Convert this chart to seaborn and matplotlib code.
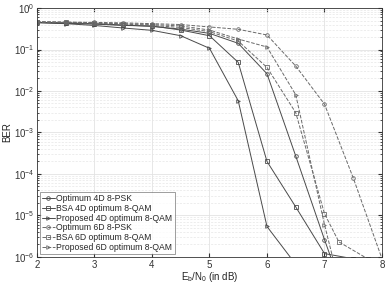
import matplotlib
matplotlib.use('Agg')
import matplotlib.pyplot as plt
import numpy as np
import seaborn as sns

# BER curves
x_half = [2, 2.5, 3, 3.5, 4, 4.5, 5, 5.5, 6, 6.5, 7, 7.5, 8]

opt4d_x = x_half[:12]
opt4d = [0.45, 0.44, 0.42, 0.39, 0.36, 0.31, 0.245, 0.141, 0.026, 2.7e-4, 2.6e-6, 3e-8]

bsa4d_x = x_half[:12]
bsa4d = [0.45, 0.43, 0.41, 0.38, 0.37, 0.295, 0.215, 0.049, 2e-4, 1.6e-5, 1.2e-6, 9e-7]

prop4d_x = x_half[:10]
prop4d = [0.44, 0.42, 0.38, 0.33, 0.29, 0.215, 0.107, 0.0058, 5.4e-6, 6.6e-7]

opt6d_x = x_half
opt6d = [0.47, 0.46, 0.45, 0.44, 0.42, 0.40, 0.35, 0.307, 0.224, 0.040, 0.0048, 8e-5, 9e-7]

bsa6d_x = [2, 2.5, 3, 3.5, 4, 4.5, 5, 5.5, 6, 6.5, 7, 7.25, 7.75]
bsa6d = [0.46, 0.45, 0.43, 0.41, 0.38, 0.34, 0.27, 0.16, 0.037, 0.0030, 1.1e-5, 2.3e-6, 9e-7]

prop6d_x = x_half[:12]
prop6d = [0.46, 0.45, 0.44, 0.42, 0.40, 0.37, 0.295, 0.179, 0.115, 0.0081, 6e-6, 1e-8]

labels = ['Optimum 4D 8-PSK', 'BSA 4D optimum 8-QAM', 'Proposed 4D optimum 8-QAM',
          'Optimum 6D 8-PSK', 'BSA 6D optimum 8-QAM', 'Proposed 6D optimum 8-QAM']

sns.set_style('ticks')
plt.rcParams['font.family'] = ['Liberation Sans', 'DejaVu Sans']
plt.rcParams['mathtext.fontset'] = 'custom'
plt.rcParams['mathtext.rm'] = 'Liberation Sans'
plt.rcParams['mathtext.it'] = 'Liberation Sans'

fig = plt.figure(figsize=(3.89, 2.87), dpi=100)
ax = fig.add_axes([0.095, 0.105, 0.887, 0.867])

series = [
    (opt4d_x, opt4d, 'o', '-', '#4a4a4a'),
    (bsa4d_x, bsa4d, 's', '-', '#4a4a4a'),
    (prop4d_x, prop4d, '>', '-', '#4a4a4a'),
    (opt6d_x, opt6d, 'o', '--', '#6a6a6a'),
    (bsa6d_x, bsa6d, 's', '--', '#6a6a6a'),
    (prop6d_x, prop6d, '>', '--', '#6a6a6a'),
]

for (xs, ys, mk, ls, col), lab in zip(series, labels):
    sns.lineplot(x=xs, y=ys, ax=ax, color=col, marker=mk, linestyle=ls,
                 linewidth=0.7, markersize=2.6, markerfacecolor='none',
                 markeredgecolor=col, markeredgewidth=0.6, label=lab,
                 dashes=False if ls == '-' else (4, 2.5))

ax.set_yscale('log')
ax.set_xlim(2, 8)
ax.set_ylim(1e-6, 1)
ax.set_xticks([2, 3, 4, 5, 6, 7, 8])

ax.grid(True, which='major', color='#e3e3e3', linewidth=0.6)
ax.grid(True, which='minor', axis='y', color='#e6e6e6', linewidth=0.5, linestyle=(0, (3, 2)))
ax.set_axisbelow(True)

ax.tick_params(which='both', direction='in', top=True, right=True, labelsize=7,
               colors='#333333', pad=2)
ax.tick_params(which='major', length=3)
ax.tick_params(which='minor', length=1.5)
for sp in ax.spines.values():
    sp.set_color('#333333')
    sp.set_linewidth(0.6)

ax.set_xlabel(r'E$_\mathrm{b}$/N$_0$ (in dB)', fontsize=7, labelpad=0, color='#222222')
ax.set_ylabel('BER', fontsize=7, labelpad=1, color='#222222')

leg = ax.legend(loc='lower left', fontsize=6.2, handlelength=1.5, handletextpad=0.2,
                labelspacing=0.1, borderpad=0.25, borderaxespad=0.3,
                frameon=True, fancybox=False, edgecolor='#555555')
leg.get_frame().set_linewidth(0.5)

fig.savefig('out.png', dpi=100)
